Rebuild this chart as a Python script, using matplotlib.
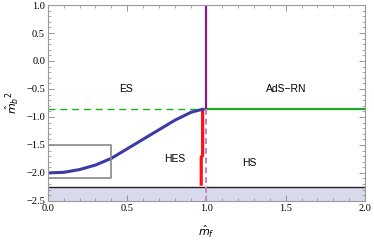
import matplotlib
matplotlib.use("Agg")
import matplotlib.pyplot as plt
from matplotlib.ticker import MultipleLocator

# blue boundary curve (ES / HES)
curve_x = [0.0, 0.1, 0.2, 0.3, 0.4, 0.5, 0.6, 0.7, 0.8, 0.9, 0.95, 0.98]
curve_y = [-2.0, -1.99, -1.94, -1.86, -1.74, -1.57, -1.40, -1.23, -1.06, -0.92, -0.88, -0.865]

# red boundary (HES / HS)
red_x = [0.976, 0.976, 0.967, 0.967]
red_y = [-0.865, -1.69, -1.72, -2.2]

m_crit = -0.865     # green line level
bf_bound = -2.25    # lower bound
box = (0.0, 0.4, -2.1, -1.5)  # inset box x0, x1, y0, y1

labels = [("ES", 0.49, -0.5), ("AdS\u2212RN", 1.5, -0.5),
          ("HES", 0.8, -1.76), ("HS", 1.27, -1.82)]

fig = plt.figure(figsize=(3.74, 2.4), dpi=100)
ax = fig.add_axes([0.128, 0.163, 0.848, 0.816])

ax.fill_between([0, 2], -2.5, bf_bound, color="#d9d9ec", lw=0)
ax.axhline(bf_bound, color="#222222", lw=1.0)

ax.plot([0, 1], [m_crit, m_crit], color="#18b018", lw=1.0, ls=(0, (5, 3.5)))
ax.plot([1, 2], [m_crit, m_crit], color="#22aa22", lw=1.6)
ax.plot([1, 1], [m_crit, 1.0], color="#8a1a8a", lw=1.6)
ax.plot([1, 1], [m_crit, -2.5], color="#c080c8", lw=1.4, ls=(0, (3, 2)))

ax.plot(red_x, red_y, color="#ff1010", lw=2.3)
ax.plot(curve_x, curve_y, color="#3b3ba6", lw=2.2, solid_capstyle="round")

bx0, bx1, by0, by1 = box
ax.plot([bx0, bx1, bx1, bx0, bx0], [by0, by0, by1, by1, by0], color="#888888", lw=1.2)

for t, x, y in labels:
    ax.text(x, y, t, fontsize=7.5, family="Liberation Sans", ha="center", va="center")

ax.set_xlim(0, 2)
ax.set_ylim(-2.5, 1.0)
ax.xaxis.set_major_locator(MultipleLocator(0.5))
ax.xaxis.set_minor_locator(MultipleLocator(0.1))
ax.yaxis.set_major_locator(MultipleLocator(0.5))
ax.yaxis.set_minor_locator(MultipleLocator(0.1))
ax.tick_params(which="both", direction="in", top=True, right=True, color="#888888")
ax.tick_params(which="major", length=4, width=0.6, labelsize=7.5, pad=2)
ax.tick_params(which="minor", length=2, width=0.5)
for lab in ax.get_xticklabels() + ax.get_yticklabels():
    lab.set_family("Liberation Serif")
for s in ax.spines.values():
    s.set_color("#999999")
    s.set_linewidth(0.8)

ax.set_xlabel(r"$\hat{m}_f$", fontsize=8, labelpad=8)
ax.set_ylabel(r"$\hat{m}_b{}^2$", fontsize=8, labelpad=4)

fig.savefig("out.png", dpi=100)
